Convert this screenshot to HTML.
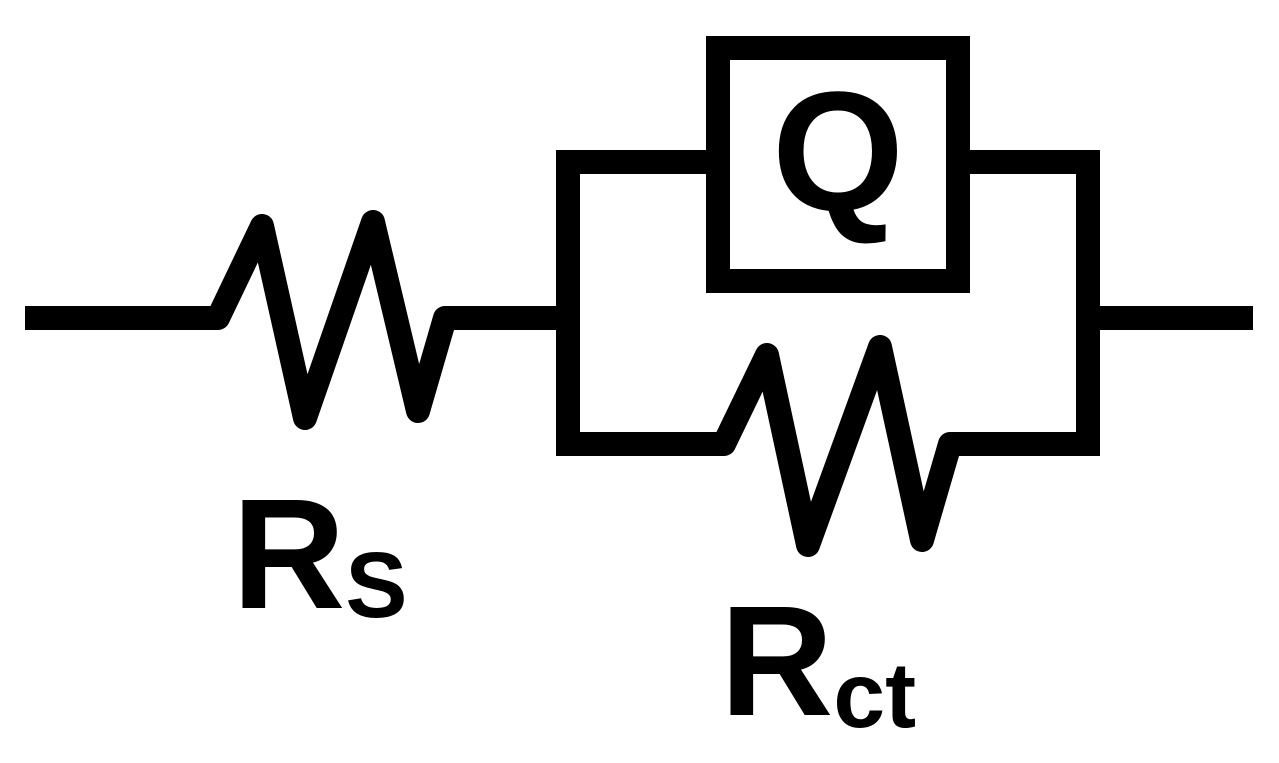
<!DOCTYPE html>
<html><head><meta charset="utf-8"><style>html,body{margin:0;padding:0;background:#fff}svg{display:block}</style></head>
<body>
<svg width="1279" height="763" viewBox="0 0 1279 763" xmlns="http://www.w3.org/2000/svg">
<g fill="none" stroke="#000" stroke-width="24" stroke-linejoin="round" stroke-linecap="square">
<polyline points="37,318 218,318 262,226 305,418 373,222 418,411 445,318 568,318"/>
<polyline points="568,444 724,444 767,355 808,545 880,347 922,540 950,444 1088,444"/>
<polyline points="718,162 568,162 568,444" stroke-linejoin="miter"/>
<polyline points="958,162 1088,162 1088,444" stroke-linejoin="miter"/>
<line x1="1088" y1="318" x2="1241" y2="318"/>
<rect x="718" y="48" width="240" height="233" stroke-linejoin="miter" stroke-linecap="butt"/>
</g>
<g font-family="'Liberation Sans', Arial, sans-serif" font-weight="bold" fill="#000">
<text x="838" y="210" font-size="170" text-anchor="middle">Q</text>
<text x="232" y="608" font-size="157">R<tspan font-size="93" dy="9">S</tspan></text>
<text x="720" y="715" font-size="157">R<tspan font-size="93" dy="12">ct</tspan></text>
</g>
</svg>
</body></html>
